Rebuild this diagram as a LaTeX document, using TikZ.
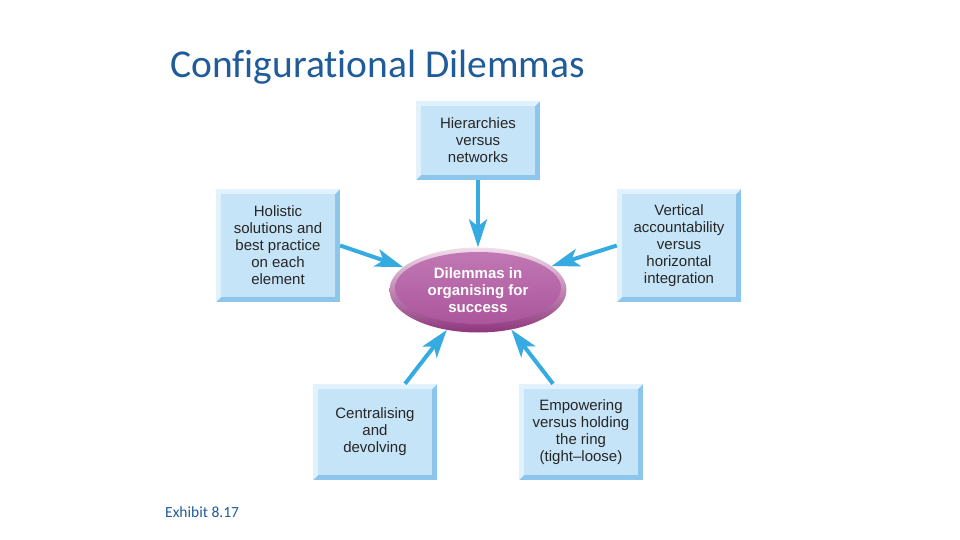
\documentclass[tikz,border=0pt]{standalone}
\usepackage{fontspec}
\setmainfont{Liberation Sans}
\newfontfamily\carlito[Ligatures=NoCommon]{Carlito}
\usetikzlibrary{arrows.meta,shapes.geometric}
\definecolor{boxdark}{HTML}{8CC6EC}
\definecolor{boxlight}{HTML}{E2F2FC}
\definecolor{boxmid}{HTML}{C6E4F7}
\definecolor{textgray}{HTML}{262626}
\definecolor{arrowblue}{HTML}{35ABE2}
\definecolor{titleblue}{HTML}{1F5C99}
\definecolor{ellrimtop}{HTML}{F2DDEC}
\definecolor{ellrimbot}{HTML}{8E357C}
\definecolor{elltop}{HTML}{C27AB5}
\definecolor{ellbot}{HTML}{A9529A}
\begin{document}
\begin{tikzpicture}[x=1pt,y=-1pt,
  bevelbox/.style={rectangle, fill=boxdark, inner sep=0pt, align=center,
    minimum width=124pt, text=textgray,
    font=\fontsize{15}{17}\selectfont,
    path picture={
      \fill[boxlight] (path picture bounding box.south west)
        -- (path picture bounding box.north west)
        -- (path picture bounding box.north east)
        -- ([shift={(-5pt,-5pt)}]path picture bounding box.north east)
        -- ([shift={(5pt,-5pt)}]path picture bounding box.north west)
        -- ([shift={(5pt,5pt)}]path picture bounding box.south west) -- cycle;
      \fill[boxmid] ([shift={(5pt,5pt)}]path picture bounding box.south west)
        rectangle ([shift={(-5pt,-5pt)}]path picture bounding box.north east);
    }},
  centre/.style={ellipse, minimum width=177pt, minimum height=85pt, inner sep=0pt,
    top color=ellrimtop, bottom color=ellrimbot, align=center, text=white,
    font=\bfseries\fontsize{15}{17}\selectfont,
    path picture={
      \shade[top color=elltop, bottom color=ellbot]
        ([yshift=2pt]path picture bounding box.center) ellipse [x radius=83pt, y radius=36pt];
    }},
  link/.style={draw=arrowblue, line width=4pt,
    -{Stealth[length=28pt,width=18pt,inset=7pt]}}
]
\useasboundingbox (0,0) rectangle (960,540);
\fill[white] (0,0) rectangle (960,540);

\node[anchor=base west, inner sep=0pt, text=titleblue, font=\carlito\fontsize{39.5}{44}\selectfont]
  (title) at (170,78) {Configurational Dilemmas};
\node[anchor=base west, inner sep=0pt, text=titleblue, font=\carlito\fontsize{15.5}{17}\selectfont]
  (exhibit) at (165,517) {Exhibit 8.17};

\node[centre] (ell) at (478,290) {Dilemmas in\\organising for\\success};

\node[bevelbox, minimum height=79pt] (top) at (478,140.5) {Hierarchies\\versus\\networks};
\node[bevelbox, minimum height=113pt] (left) at (278,245.5) {Holistic\\solutions and\\best practice\\on each\\element};
\node[bevelbox, minimum height=113pt] (right) at (679,245.5) {Vertical\\accountability\\versus\\horizontal\\integration};
\node[bevelbox, minimum height=96pt] (bl) at (375,432) {Centralising\\and\\devolving};
\node[bevelbox, minimum height=96pt] (br) at (581,432) {Empowering\\versus holding\\the ring\\(tight–loose)};

\draw[link] (top.south) -- (ell.north);
\draw[link] (left.east) -- (ell.163);
\draw[link] (right.west) -- (ell.18);
\draw[link] ([xshift=30pt]bl.north) -- (ell.232);
\draw[link] ([xshift=-28pt]br.north) -- (ell.-50);
\end{tikzpicture}
\end{document}
